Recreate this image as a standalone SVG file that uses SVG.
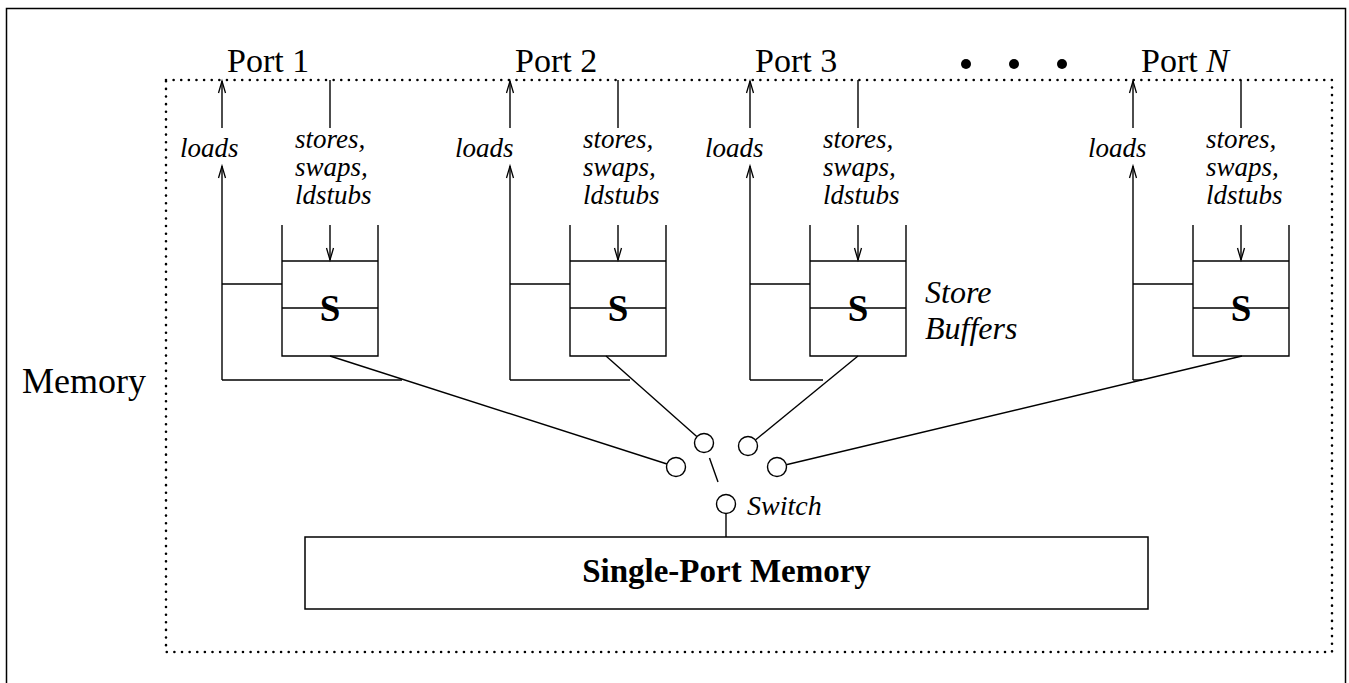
<svg xmlns="http://www.w3.org/2000/svg" width="1349" height="683" viewBox="0 0 1349 683">
<style>
  .ln{fill:none;stroke:#000;stroke-width:1.4}
  .ah{fill:none;stroke:#000;stroke-width:1.3}
  .dot{fill:none;stroke:#000;stroke-width:2.6;stroke-linecap:round;stroke-dasharray:0 7.62}
  .port{font-family:"Liberation Serif","Times New Roman",serif;font-size:34px;fill:#000}
  .it{font-family:"Liberation Serif","Times New Roman",serif;font-style:italic;font-size:27px;fill:#000}
  .big{font-family:"Liberation Serif","Times New Roman",serif;font-weight:bold;fill:#000}
  .sw{fill:#fff;stroke:#000;stroke-width:1.4}
</style>
<defs>
  <g id="portunit">
    <!-- loads arrow to port -->
    <line class="ln" x1="0" y1="128" x2="0" y2="81"/>
    <polyline class="ah" points="-3.5,93 0,81 3.5,93"/>
    <!-- loads arrow from loop -->
    <line class="ln" x1="0" y1="380" x2="0" y2="166"/>
    <polyline class="ah" points="-3.5,178 0,166 3.5,178"/>
    <line class="ln" x1="0" y1="284" x2="60" y2="284"/>
    <!-- stores line -->
    <line class="ln" x1="108" y1="80" x2="108" y2="128"/>
    <text class="it" x="73" y="148">stores,</text>
    <text class="it" x="73" y="176">swaps,</text>
    <text class="it" x="73" y="204">ldstubs</text>
    <!-- buffer -->
    <polyline class="ln" points="60,225 60,356 156,356 156,225"/>
    <line class="ln" x1="60" y1="261" x2="156" y2="261"/>
    <line class="ln" x1="60" y1="308" x2="156" y2="308"/>
    <line class="ln" x1="108" y1="225" x2="108" y2="260"/>
    <polyline class="ah" points="104.5,248 108,260 111.5,248"/>
    <text class="big" x="108" y="321" style="font-size:37px" text-anchor="middle">S</text>
  </g>
</defs>

<!-- outer frame -->
<rect x="6.5" y="8.5" width="1339" height="690" fill="none" stroke="#000" stroke-width="1.5"/>

<!-- memory boundary (dotted) -->
<g id="memory-boundary">
  <rect class="dot" x="166" y="80" width="1166" height="572"/>
  <text class="port" x="22" y="393" style="font-size:36px">Memory</text>
</g>

<g id="port1">
  <text class="port" x="227" y="72">Port 1</text>
  <use href="#portunit" x="222" y="0"/>
  <text class="it" x="180" y="157">loads</text>
</g>
<g id="port2">
  <text class="port" x="515" y="72">Port 2</text>
  <use href="#portunit" x="510" y="0"/>
  <text class="it" x="455" y="157">loads</text>
</g>
<g id="port3">
  <text class="port" x="755" y="72">Port 3</text>
  <use href="#portunit" x="750" y="0"/>
  <text class="it" x="705" y="157">loads</text>
</g>
<g id="portN">
  <text class="port" x="1141" y="72">Port <tspan font-style="italic">N</tspan></text>
  <use href="#portunit" x="1133" y="0"/>
  <text class="it" x="1088" y="157">loads</text>
</g>

<g id="ellipsis">
  <circle cx="966" cy="64" r="5"/>
  <circle cx="1014" cy="64" r="5"/>
  <circle cx="1062" cy="64" r="5"/>
</g>

<g id="store-buffers-label">
  <text class="it" x="925" y="303" style="font-size:32px">Store</text>
  <text class="it" x="925" y="339" style="font-size:32px">Buffers</text>
</g>

<g id="connectors">
  <!-- loop bottoms -->
  <line class="ln" x1="222" y1="380" x2="402" y2="380"/>
  <line class="ln" x1="510" y1="380" x2="630" y2="380"/>
  <line class="ln" x1="750" y1="380" x2="823" y2="380"/>
  <line class="ln" x1="1133" y1="380" x2="1142" y2="380"/>
  <!-- buffer to switch contacts -->
  <line class="ln" x1="330" y1="356" x2="667" y2="464"/>
  <line class="ln" x1="606" y1="356" x2="697" y2="436.7"/>
  <line class="ln" x1="858" y1="356" x2="755.4" y2="440"/>
  <line class="ln" x1="1242" y1="356" x2="786.2" y2="464.8"/>
  <!-- switch arm and to memory -->
  <line class="ln" x1="709.5" y1="458" x2="718" y2="482"/>
  <line class="ln" x1="726" y1="513.5" x2="726" y2="537"/>
</g>

<g id="switch">
  <circle class="sw" cx="676" cy="467" r="9.5"/>
  <circle class="sw" cx="704" cy="443" r="9.5"/>
  <circle class="sw" cx="748" cy="446" r="9.5"/>
  <circle class="sw" cx="777" cy="467" r="9.5"/>
  <circle class="sw" cx="726" cy="504" r="9.5"/>
  <text class="it" x="747" y="515" style="font-size:28px">Switch</text>
</g>

<g id="single-port-memory">
  <rect x="305" y="537" width="843" height="72" fill="#fff" stroke="#000" stroke-width="1.5"/>
  <text class="big" x="726.5" y="582" style="font-size:33px" text-anchor="middle">Single-Port Memory</text>
</g>
</svg>
